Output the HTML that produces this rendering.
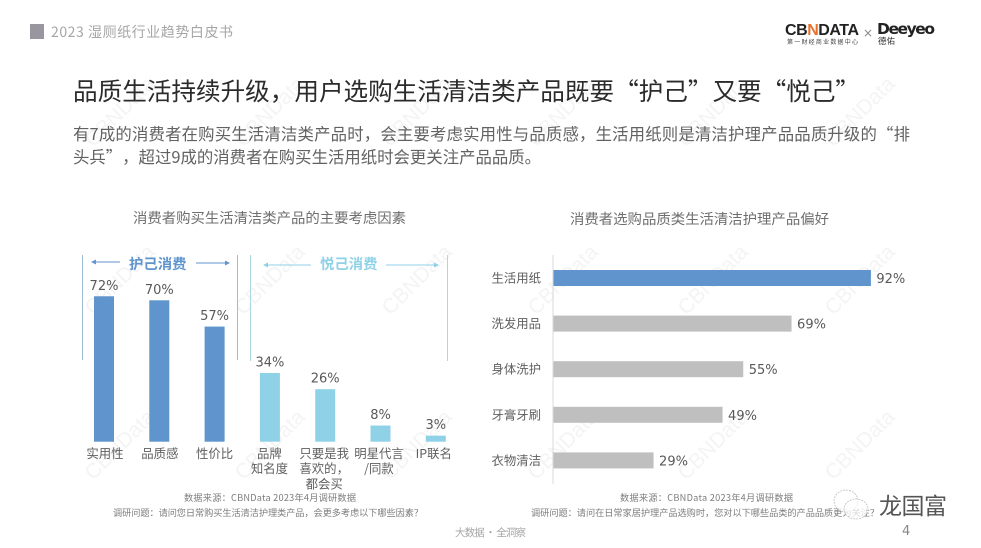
<!DOCTYPE html>
<html lang="zh-CN">
<head>
<meta charset="utf-8">
<title>2023 湿厕纸行业趋势白皮书</title>
<style>
html,body{margin:0;padding:0;background:#fff;}
body{width:981px;height:548px;overflow:hidden;}
svg{display:block;}
text{font-family:"Noto Sans CJK SC","WenQuanYi Zen Hei",sans-serif;text-spacing-trim:space-all;}
.pct{font-family:"DejaVu Sans","Noto Sans CJK SC",sans-serif;font-size:13px;fill:#595959;}
.cat{font-size:12.4px;fill:#5f5f5f;}
.src{font-size:9.2px;fill:#7d7d7d;}
.ct{font-size:14.4px;fill:#6e6e6e;}
.wm{font-family:"Liberation Sans",sans-serif;font-size:21px;fill:#f4f4f4;}
</style>
</head>
<body>
<svg id="page" width="981" height="548" viewBox="0 0 981 548" xmlns="http://www.w3.org/2000/svg">
  <rect width="981" height="548" fill="#fff"/>
  <g id="watermarks"></g>

  <rect x="30" y="24" width="14" height="15" fill="#9a96a0"/>
  <text x="51" y="37" font-size="14" fill="#a6a6a6" textLength="182">2023 湿厕纸行业趋势白皮书</text>

  <g>
    <text x="785" y="35" font-size="16" font-weight="bold" fill="#222" textLength="74" style="font-family:'Liberation Sans',sans-serif">CB<tspan fill="#e8722c">N</tspan>DATA</text>
    <text x="787" y="44" font-size="6" fill="#444" textLength="71">第一财经商业数据中心</text>
  </g>
  <text x="863" y="37" font-size="12" fill="#888" style="font-family:'DejaVu Sans',sans-serif">×</text>
  <g>
    <text x="877" y="34" font-size="15.5" font-weight="bold" fill="#222" textLength="58" style="font-family:'DejaVu Sans',sans-serif">Deeyeo</text>
    <text x="878" y="44" font-size="8.5" fill="#333">德佑</text>
  </g>

  <text x="73" y="100" font-size="24.6" fill="#2b2b2b">品质生活持续升级，用户选购生活清洁类产品既要“护己”又要“悦己”</text>
  <text x="73" y="140" font-size="16.4" fill="#626262" textLength="837">有7成的消费者在购买生活清洁类产品时，会主要考虑实用性与品质感，生活用纸则是清洁护理产品品质升级的“排</text>
  <text x="73" y="163" font-size="16.4" fill="#626262">头兵”，超过9成的消费者在购买生活用纸时会更关注产品品质。</text>

  <text class="ct" x="133" y="223" textLength="273">消费者购买生活清洁类产品的主要考虑因素</text>
  <text class="ct" x="570" y="224" textLength="259">消费者选购品质类生活清洁护理产品偏好</text>

  <g>
    <line x1="82.5" y1="255" x2="82.5" y2="360" stroke="#9dbfd6"/>
    <line x1="237.5" y1="255" x2="237.5" y2="360" stroke="#9dbfd6"/>
    <line x1="93" y1="262" x2="120" y2="262" stroke="#5f94cd"/>
    <polygon points="91,262 96,259.5 96,264.5" fill="#5f94cd"/>
    <line x1="196" y1="263" x2="228" y2="263" stroke="#5f94cd"/>
    <polygon points="230,263 225,260.5 225,265.5" fill="#5f94cd"/>
    <text x="129" y="269" font-size="14.4" font-weight="bold" fill="#5f94cd">护己消费</text>
  </g>
  <g>
    <line x1="250.5" y1="255" x2="250.5" y2="361" stroke="#add8e3"/>
    <line x1="447.5" y1="255" x2="447.5" y2="361" stroke="#add8e3"/>
    <line x1="265" y1="265" x2="311" y2="265" stroke="#8fd2e8"/>
    <polygon points="263,265 268,262.5 268,267.5" fill="#8fd2e8"/>
    <line x1="386" y1="265" x2="437" y2="265" stroke="#8fd2e8"/>
    <polygon points="439,265 434,262.5 434,267.5" fill="#8fd2e8"/>
    <text x="320" y="269" font-size="14.4" font-weight="bold" fill="#8fd2e8">悦己消费</text>
  </g>

  <g id="left-chart"></g>
  <g id="right-chart"></g>

  <text class="src" x="184" y="501" textLength="172">数据来源：CBNData 2023年4月调研数据</text>
  <text class="src" x="113" y="516" textLength="310">调研问题：请问您日常购买生活清洁护理类产品，会更多考虑以下哪些因素？</text>
  <text class="src" x="620" y="501" textLength="173">数据来源：CBNData 2023年4月调研数据</text>
  <text class="src" x="531" y="516" textLength="348">调研问题：请问在日常家居护理产品选购时，您对以下哪些品类的产品品质更为关注？</text>

  <text x="455" y="536" font-size="10.5" fill="#a6a6a6" textLength="71">大数据 · 全洞察</text>
  <text x="902" y="535" font-size="13" fill="#888" style="font-family:'DejaVu Sans',sans-serif">4</text>

  <g>
    <ellipse cx="846" cy="501" rx="12" ry="11" fill="#fff" fill-opacity="0.7" stroke="#b5b5b5" stroke-width="0.7" stroke-dasharray="2 1"/>
    <ellipse cx="856" cy="509" rx="12" ry="10" fill="#fff" fill-opacity="0.7" stroke="#b5b5b5" stroke-width="0.7" stroke-dasharray="2 1"/>
    <text x="879" y="514" font-size="23" fill="#555" textLength="68">龙国富</text>
  </g>
</svg>

<script>
// Left chart data
var factorCategories = ['实用性', '品质感', '性价比', '品牌\n知名度', '只要是我\n喜欢的，\n都会买', '明星代言\n/同款', 'IP联名'];
var factorValues = [72, 70, 57, 34, 26, 8, 3];
var factorGroups = ['self', 'self', 'self', 'joy', 'joy', 'joy', 'joy'];

// Right chart data
var preferenceCategories = ['生活用纸', '洗发用品', '身体洗护', '牙膏牙刷', '衣物清洁'];
var preferenceValues = [92, 69, 55, 49, 29];
var preferenceHighlight = ['生活用纸'];

var SVGNS = 'http://www.w3.org/2000/svg';

function make(tag, parent, props, text) {
  var el = document.createElementNS(SVGNS, tag);
  for (var k in props) { el.setAttribute(k, props[k]); }
  if (text !== undefined) { el.textContent = text; }
  parent.appendChild(el);
  return el;
}

/* Left chart axes */
function leftX(i) { return 104 + i * 55.3; }
function leftCatX(i) { return 105 + i * 54.8; }
function leftY(v) { return 441.7 - v * 2.02; }

/* Right chart axes */
function rightX(v) { return 553.5 + v * 3.45; }
function rightY(i) { return 278 + i * 45.6; }

var left = document.getElementById('left-chart');
factorValues.forEach(function (v, i) {
  var bar = make('rect', left, {
    x: leftX(i) - 10,
    y: leftY(v),
    width: 20,
    height: leftY(0) - leftY(v),
    fill: factorGroups[i] === 'self' ? '#5f94cd' : '#8fd2e8'
  });
  
  

  var label = make('text', left, {
    'class': 'pct',
    x: leftX(i),
    y: leftY(v) - 6.5,
    'text-anchor': 'middle'
  }, v + '%');
  
  

  factorCategories[i].split('\n').forEach(function (line, j) {
    var cat = make('text', left, {
      'class': 'cat',
      x: leftCatX(i),
      y: 458 + j * 15.2,
      'text-anchor': 'middle'
    }, line);
    
    
  });
});

var right = document.getElementById('right-chart');
var rightAxis = make('line', right, {
  x1: rightX(0) - 0.5,
  y1: 255,
  x2: rightX(0) - 0.5,
  y2: 484,
  stroke: '#d9d9d9',
  'stroke-width': 1
});



preferenceValues.forEach(function (v, i) {
  var isHi = preferenceHighlight.indexOf(preferenceCategories[i]) >= 0;
  var bar = make('rect', right, {
    x: rightX(0),
    y: rightY(i) - 8,
    width: rightX(v) - rightX(0),
    height: 16,
    fill: isHi ? '#5f94cd' : '#bfbfbf'
  });
  
  

  var label = make('text', right, {
    'class': 'pct',
    x: rightX(v) + 5.5,
    y: rightY(i) + 5
  }, v + '%');
  
  

  var cat = make('text', right, {
    'class': 'cat',
    x: 541,
    y: rightY(i) + 4.5,
    'text-anchor': 'end'
  }, preferenceCategories[i]);
  
  
});

var wmColumns = [120, 270, 417, 563, 713, 860];
var wmRows = [112, 280, 445];
var wmGroup = document.getElementById('watermarks');
wmRows.forEach(function (wy) {
  wmColumns.forEach(function (wx) {
    var wm = make('text', wmGroup, {
      'class': 'wm',
      x: wx,
      y: wy,
      'text-anchor': 'middle',
      'dominant-baseline': 'central',
      transform: 'rotate(-45 ' + wx + ' ' + wy + ')'
    }, 'CBNData');
    
    
  });
});
</script>
</body>
</html>
